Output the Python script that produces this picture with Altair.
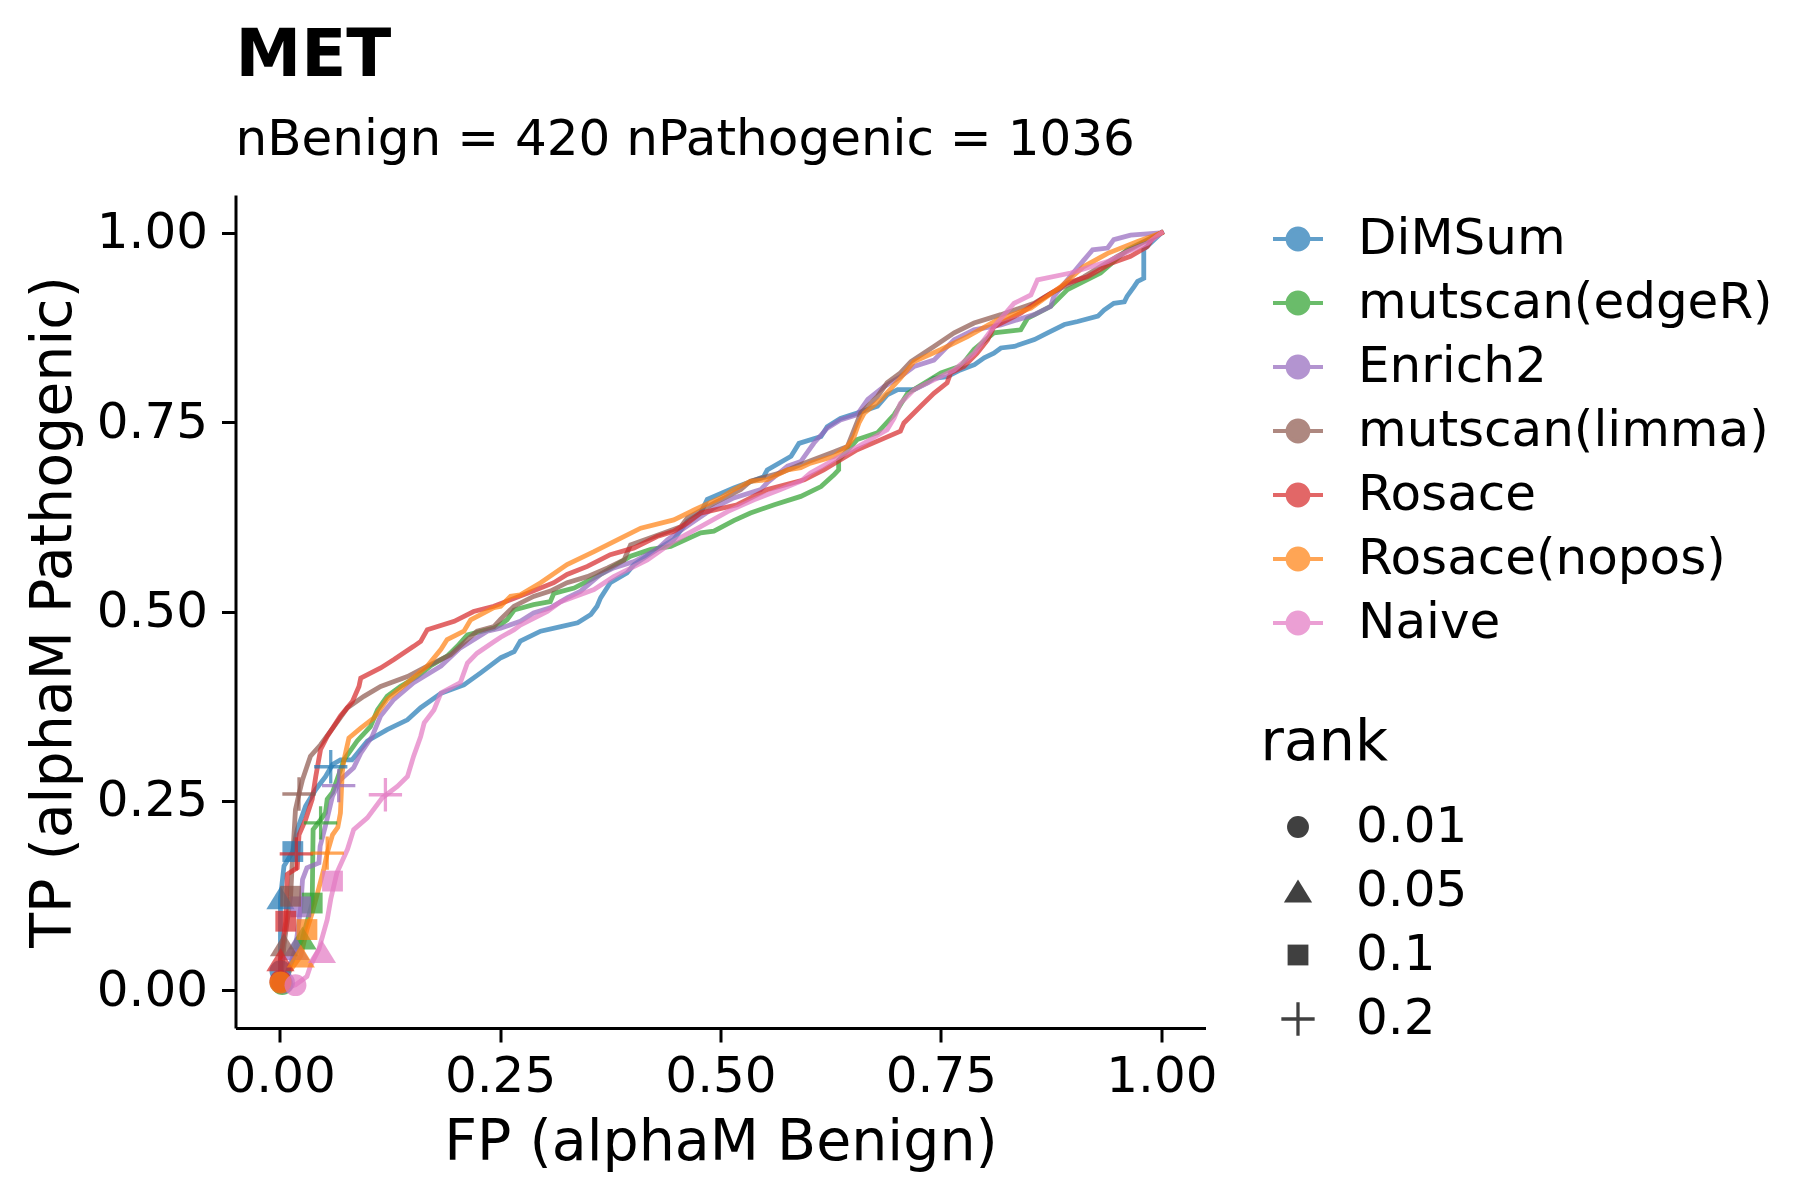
import altair as alt
import pandas as pd

methods = ["DiMSum", "mutscan(edgeR)", "Enrich2", "mutscan(limma)", "Rosace", "Rosace(nopos)", "Naive"]
colors = ["#1f77b4", "#2ca02c", "#9467bd", "#8c564b", "#d62728", "#ff7f0e", "#e377c2"]
ranks = ["0.01", "0.05", "0.1", "0.2"]

dimsum_fp = [0, 0.001, 0.001, 0.005, 0.015, 0.020, 0.0295, 0.041, 0.052, 0.060, 0.069, 0.082, 0.0995, 0.122, 0.145,
             0.160, 0.183, 0.209, 0.228, 0.251, 0.266, 0.273, 0.296, 0.319, 0.338, 0.353, 0.360, 0.364, 0.375, 0.394,
             0.402, 0.428, 0.447, 0.4625, 0.4775, 0.485, 0.515, 0.549, 0.553, 0.580, 0.589, 0.614, 0.621, 0.636, 0.655,
             0.678, 0.689, 0.701, 0.7195, 0.735, 0.742, 0.757, 0.772, 0.788, 0.799, 0.810, 0.818, 0.833, 0.856, 0.871,
             0.890, 0.905, 0.928, 0.935, 0.946, 0.958, 0.961, 0.969, 0.973, 0.980, 0.980, 1.0]
dimsum_tp = [0, 0.025, 0.122, 0.164, 0.183, 0.212, 0.243, 0.265, 0.282, 0.298, 0.304, 0.304, 0.329, 0.344, 0.357,
             0.373, 0.392, 0.403, 0.419, 0.439, 0.447, 0.461, 0.474, 0.480, 0.485, 0.496, 0.507, 0.518, 0.538, 0.551,
             0.562, 0.582, 0.595, 0.619, 0.630, 0.648, 0.663, 0.678, 0.687, 0.705, 0.722, 0.731, 0.744, 0.755, 0.762,
             0.771, 0.786, 0.793, 0.793, 0.802, 0.808, 0.810, 0.819, 0.826, 0.835, 0.841, 0.848, 0.850, 0.859, 0.868,
             0.879, 0.883, 0.890, 0.898, 0.907, 0.909, 0.916, 0.929, 0.936, 0.940, 0.978, 1.0]

edger_fp = [0, 0.003, 0.026, 0.037, 0.038, 0.0465, 0.052, 0.054, 0.060, 0.073, 0.088, 0.103, 0.111, 0.122, 0.137,
            0.156, 0.171, 0.190, 0.2015, 0.213, 0.243, 0.2507, 0.258, 0.266, 0.288, 0.307, 0.311, 0.334, 0.364, 0.398,
            0.421, 0.4435, 0.4775, 0.4925, 0.515, 0.534, 0.561, 0.591, 0.614, 0.629, 0.634, 0.634, 0.655, 0.678, 0.697,
            0.712, 0.750, 0.7725, 0.7875, 0.810, 0.8405, 0.848, 0.8745, 0.8935, 0.931, 0.9615, 1.0]
edger_tp = [0, 0.008, 0.069, 0.115, 0.212, 0.225, 0.234, 0.252, 0.261, 0.304, 0.329, 0.348, 0.370, 0.388, 0.401,
            0.414, 0.428, 0.441, 0.454, 0.469, 0.478, 0.483, 0.489, 0.502, 0.509, 0.513, 0.524, 0.531, 0.549, 0.573,
            0.582, 0.586, 0.604, 0.606, 0.620, 0.630, 0.641, 0.652, 0.665, 0.681, 0.687, 0.700, 0.727, 0.736, 0.760,
            0.788, 0.815, 0.824, 0.846, 0.868, 0.872, 0.887, 0.903, 0.925, 0.947, 0.978, 1.0]

enrich2_fp = [0, 0.005, 0.018, 0.024, 0.026, 0.031, 0.0446, 0.046, 0.052, 0.060, 0.069, 0.084, 0.092, 0.105, 0.1145,
              0.1297, 0.152, 0.183, 0.205, 0.2356, 0.2507, 0.273, 0.288, 0.307, 0.326, 0.341, 0.364, 0.379, 0.402,
              0.428, 0.440, 0.470, 0.4926, 0.515, 0.5456, 0.553, 0.576, 0.591, 0.606, 0.621, 0.636, 0.655, 0.667,
              0.6855, 0.704, 0.7195, 0.742, 0.765, 0.7875, 0.818, 0.8556, 0.8745, 0.878, 0.8935, 0.912, 0.922, 0.939,
              0.946, 0.965, 1.0]
enrich2_tp = [0, 0.010, 0.055, 0.110, 0.146, 0.1615, 0.168, 0.190, 0.217, 0.256, 0.278, 0.2935, 0.313, 0.335, 0.362,
              0.384, 0.406, 0.428, 0.452, 0.474, 0.478, 0.487, 0.498, 0.505, 0.518, 0.5266, 0.549, 0.5575, 0.566,
              0.582, 0.595, 0.619, 0.637, 0.650, 0.661, 0.670, 0.692, 0.698, 0.7225, 0.742, 0.753, 0.760, 0.780,
              0.797, 0.810, 0.8235, 0.832, 0.859, 0.872, 0.8786, 0.892, 0.903, 0.916, 0.938, 0.964, 0.9776, 0.980,
              0.991, 0.997, 1.0]

limma_fp = [0, 0.001, 0.005, 0.0125, 0.014, 0.016, 0.018, 0.022, 0.026, 0.035, 0.0465, 0.0616, 0.077, 0.0956, 0.1146,
            0.145, 0.1675, 0.194, 0.213, 0.224, 0.243, 0.2507, 0.266, 0.288, 0.307, 0.326, 0.349, 0.372, 0.3906, 0.398,
            0.4246, 0.455, 0.4625, 0.4926, 0.523, 0.534, 0.568, 0.591, 0.629, 0.644, 0.659, 0.678, 0.689, 0.704, 0.716,
            0.742, 0.765, 0.7875, 0.818, 0.8556, 0.8745, 0.912, 0.950, 1.0]
limma_tp = [0, 0.010, 0.060, 0.124, 0.160, 0.199, 0.2385, 0.259, 0.278, 0.309, 0.324, 0.348, 0.373, 0.388, 0.401,
            0.414, 0.428, 0.443, 0.463, 0.474, 0.480, 0.490, 0.507, 0.520, 0.527, 0.538, 0.546, 0.5575, 0.568, 0.588,
            0.599, 0.612, 0.6235, 0.643, 0.661, 0.672, 0.683, 0.694, 0.711, 0.718, 0.762, 0.784, 0.802, 0.815, 0.830,
            0.850, 0.868, 0.881, 0.892, 0.907, 0.920, 0.942, 0.969, 1.0]

rosace_fp = [0, 0.001, 0.001, 0.007, 0.0087, 0.020, 0.022, 0.0295, 0.037, 0.041, 0.0465, 0.054, 0.069, 0.0825, 0.090,
             0.092, 0.1146, 0.1297, 0.152, 0.160, 0.1675, 0.198, 0.220, 0.243, 0.281, 0.311, 0.326, 0.349, 0.375, 0.402,
             0.428, 0.447, 0.4625, 0.4775, 0.519, 0.553, 0.595, 0.617, 0.655, 0.682, 0.704, 0.708, 0.727, 0.742, 0.757,
             0.761, 0.776, 0.791, 0.803, 0.810, 0.8405, 0.863, 0.8935, 0.916, 0.943, 0.965, 0.984, 0.990, 1.0]
rosace_tp = [0, 0.012, 0.040, 0.091, 0.153, 0.1615, 0.205, 0.225, 0.252, 0.282, 0.318, 0.335, 0.362, 0.381, 0.401,
             0.412, 0.4255, 0.4365, 0.454, 0.4606, 0.476, 0.487, 0.500, 0.507, 0.524, 0.538, 0.549, 0.5596, 0.575, 0.584,
             0.599, 0.606, 0.617, 0.630, 0.641, 0.661, 0.674, 0.687, 0.7136, 0.727, 0.738, 0.749, 0.771, 0.788, 0.802,
             0.815, 0.8235, 0.841, 0.859, 0.876, 0.894, 0.9116, 0.934, 0.942, 0.960, 0.969, 0.982, 0.993, 1.0]

nopos_fp = [0, 0.001, 0.016, 0.024, 0.031, 0.037, 0.0446, 0.050, 0.054, 0.060, 0.066, 0.069, 0.071, 0.073, 0.0786,
            0.092, 0.107, 0.122, 0.145, 0.1675, 0.183, 0.190, 0.209, 0.2167, 0.243, 0.2507, 0.262, 0.273, 0.296, 0.326,
            0.3565, 0.387, 0.4095, 0.447, 0.470, 0.500, 0.515, 0.534, 0.553, 0.576, 0.591, 0.602, 0.629, 0.644, 0.6515,
            0.657, 0.663, 0.682, 0.704, 0.7195, 0.750, 0.780, 0.814, 0.852, 0.886, 0.912, 0.939, 0.973, 1.0]
nopos_tp = [0, 0.010, 0.032, 0.045, 0.080, 0.102, 0.135, 0.159, 0.181, 0.205, 0.215, 0.234, 0.287, 0.304, 0.333,
            0.346, 0.3595, 0.384, 0.406, 0.428, 0.450, 0.463, 0.474, 0.489, 0.505, 0.507, 0.520, 0.522, 0.538, 0.562,
            0.579, 0.597, 0.610, 0.621, 0.634, 0.650, 0.661, 0.672, 0.674, 0.687, 0.690, 0.696, 0.705, 0.718, 0.731,
            0.749, 0.762, 0.780, 0.808, 0.830, 0.846, 0.863, 0.885, 0.9006, 0.929, 0.9555, 0.973, 0.9885, 1.0]

naive_fp = [0, 0.018, 0.031, 0.035, 0.0446, 0.054, 0.058, 0.065, 0.077, 0.084, 0.0995, 0.1165, 0.1335, 0.145, 0.152,
            0.160, 0.164, 0.175, 0.183, 0.205, 0.213, 0.224, 0.243, 0.2507, 0.266, 0.273, 0.3036, 0.319, 0.3565, 0.379,
            0.417, 0.447, 0.4775, 0.508, 0.538, 0.568, 0.591, 0.602, 0.636, 0.663, 0.689, 0.697, 0.704, 0.7195, 0.742,
            0.765, 0.7875, 0.810, 0.833, 0.852, 0.8595, 0.897, 0.939, 0.9615, 0.984, 1.0]
naive_tp = [0, 0.007, 0.018, 0.032, 0.054, 0.093, 0.120, 0.155, 0.186, 0.212, 0.2275, 0.254, 0.269, 0.282, 0.309,
            0.335, 0.353, 0.370, 0.3925, 0.406, 0.432, 0.445, 0.460, 0.466, 0.476, 0.482, 0.500, 0.513, 0.529, 0.546,
            0.568, 0.5926, 0.612, 0.632, 0.6476, 0.661, 0.672, 0.683, 0.705, 0.7225, 0.740, 0.7555, 0.775, 0.793, 0.806,
            0.819, 0.841, 0.876, 0.907, 0.918, 0.938, 0.947, 0.962, 0.975, 0.986, 1.0]

# rank markers (0.01, 0.05, 0.1, 0.2) per method
marker_fp = {
    "DiMSum": [0.001, 0.001, 0.015, 0.058],
    "mutscan(edgeR)": [0.003, 0.026, 0.037, 0.0465],
    "Enrich2": [0.005, 0.018, 0.024, 0.067],
    "mutscan(limma)": [0.001, 0.005, 0.0125, 0.022],
    "Rosace": [0.001, 0.001, 0.007, 0.019],
    "Rosace(nopos)": [0.001, 0.024, 0.031, 0.054],
    "Naive": [0.018, 0.048, 0.060, 0.120],
}
marker_tp = {
    "DiMSum": [0.025, 0.122, 0.183, 0.295],
    "mutscan(edgeR)": [0.008, 0.069, 0.115, 0.221],
    "Enrich2": [0.010, 0.055, 0.110, 0.270],
    "mutscan(limma)": [0.010, 0.060, 0.124, 0.259],
    "Rosace": [0.012, 0.040, 0.091, 0.180],
    "Rosace(nopos)": [0.010, 0.045, 0.080, 0.181],
    "Naive": [0.0066, 0.051, 0.144, 0.258],
}

curves = {
    "DiMSum": (dimsum_fp, dimsum_tp),
    "mutscan(edgeR)": (edger_fp, edger_tp),
    "Enrich2": (enrich2_fp, enrich2_tp),
    "mutscan(limma)": (limma_fp, limma_tp),
    "Rosace": (rosace_fp, rosace_tp),
    "Rosace(nopos)": (nopos_fp, nopos_tp),
    "Naive": (naive_fp, naive_tp),
}

frames = []
for m in methods:
    fp, tp = curves[m]
    n = min(len(fp), len(tp))
    frames.append(pd.DataFrame({"method": m, "fp": fp[:n], "tp": tp[:n], "i": list(range(n))}))
line_df = pd.concat(frames, ignore_index=True)

mrows = []
for m in methods:
    for r, x, y in zip(ranks, marker_fp[m], marker_tp[m]):
        mrows.append({"method": m, "rank": r, "fp": x, "tp": y})
marker_df = pd.DataFrame(mrows)

FONT = "DejaVu Sans"
tri = "M0,-1.05L1.29,1.05L-1.29,1.05Z"
sq = "M-0.95,-0.95L0.95,-0.95L0.95,0.95L-0.95,0.95Z"
plus = ("M-1.52,-0.15L1.52,-0.15L1.52,0.15L-1.52,0.15Z"
        "M-0.15,-1.52L0.15,-1.52L0.15,1.52L-0.15,1.52Z")
legend_line_dot = "M-1,0L1,0M0.42,0A0.42,0.42,0,1,1,-0.42,0A0.42,0.42,0,1,1,0.42,0Z"

color_scale = alt.Scale(domain=methods, range=colors)
shape_scale = alt.Scale(domain=ranks, range=["circle", tri, sq, plus])

x_enc = alt.X("fp:Q", scale=alt.Scale(domain=[-0.05, 1.05], nice=False, zero=False),
              axis=alt.Axis(values=[0, 0.25, 0.5, 0.75, 1.0], format=".2f", title="FP (alphaM Benign)",
                            labelPadding=9, titlePadding=13))
y_enc = alt.Y("tp:Q", scale=alt.Scale(domain=[-0.05, 1.05], nice=False, zero=False),
              axis=alt.Axis(values=[0, 0.25, 0.5, 0.75, 1.0], format=".2f", title="TP (alphaM Pathogenic)",
                            labelPadding=14, titlePadding=14))

color_legend = alt.Legend(
    title=None, orient="none", legendX=1035.5, legendY=17, padding=0,
    symbolType=legend_line_dot, symbolSize=2500, symbolStrokeWidth=3.8, labelOffset=33, rowPadding=12,
    labelFontSize=50, labelFont=FONT, labelColor="black", labelLimit=1000,
)

shape_legend = alt.Legend(
    title="rank", orient="none", legendX=1025, legendY=520, padding=0,
    titleFontSize=57, titleFont=FONT, titleFontWeight="normal", titleColor="black", titlePadding=30,
    symbolSize=480, symbolOffset=12.5, labelOffset=33, rowPadding=14,
    symbolFillColor="#404040", symbolStrokeColor="#404040", symbolStrokeWidth=0, symbolOpacity=1,
    labelFontSize=50, labelFont=FONT, labelColor="black",
)

lines = alt.Chart(line_df).mark_line(strokeWidth=4.8, opacity=0.7, strokeJoin="miter", strokeCap="square").encode(
    x=x_enc,
    y=y_enc,
    color=alt.Color("method:N", scale=color_scale, legend=color_legend),
    order=alt.Order("i:Q"),
    strokeWidth=alt.value(4.8),
)

points = alt.Chart(marker_df).mark_point(filled=True, opacity=0.7, size=480, strokeWidth=0).encode(
    x=x_enc,
    y=y_enc,
    color=alt.Color("method:N", scale=color_scale, legend=color_legend),
    shape=alt.Shape("rank:N", scale=shape_scale, legend=shape_legend),
)

chart = alt.layer(lines, points).properties(
    width=970,
    height=833,
    padding={"left": 235.5, "top": 195, "right": 594.5, "bottom": 172},
    autosize=alt.AutoSizeParams(type="none"),
    title=alt.TitleParams(
        text="MET", subtitle="nBenign = 420 nPathogenic = 1036",
        anchor="start", frame="group", font=FONT, subtitleFont=FONT,
        fontSize=66, fontWeight="bold", subtitleFontSize=50,
        color="black", subtitleColor="black", offset=29, subtitlePadding=25,
    ),
).configure(
    font=FONT, background="white"
).configure_view(
    stroke=None
).configure_axis(
    grid=False, domainColor="black", domainWidth=3, tickColor="black", tickWidth=3, tickSize=14,
    labelFontSize=50, labelColor="black", labelFont=FONT,
    titleFontSize=57, titleFontWeight="normal", titleColor="black", titleFont=FONT,
)

chart.save("out.html", embed_options={"renderer": "svg", "actions": False})
